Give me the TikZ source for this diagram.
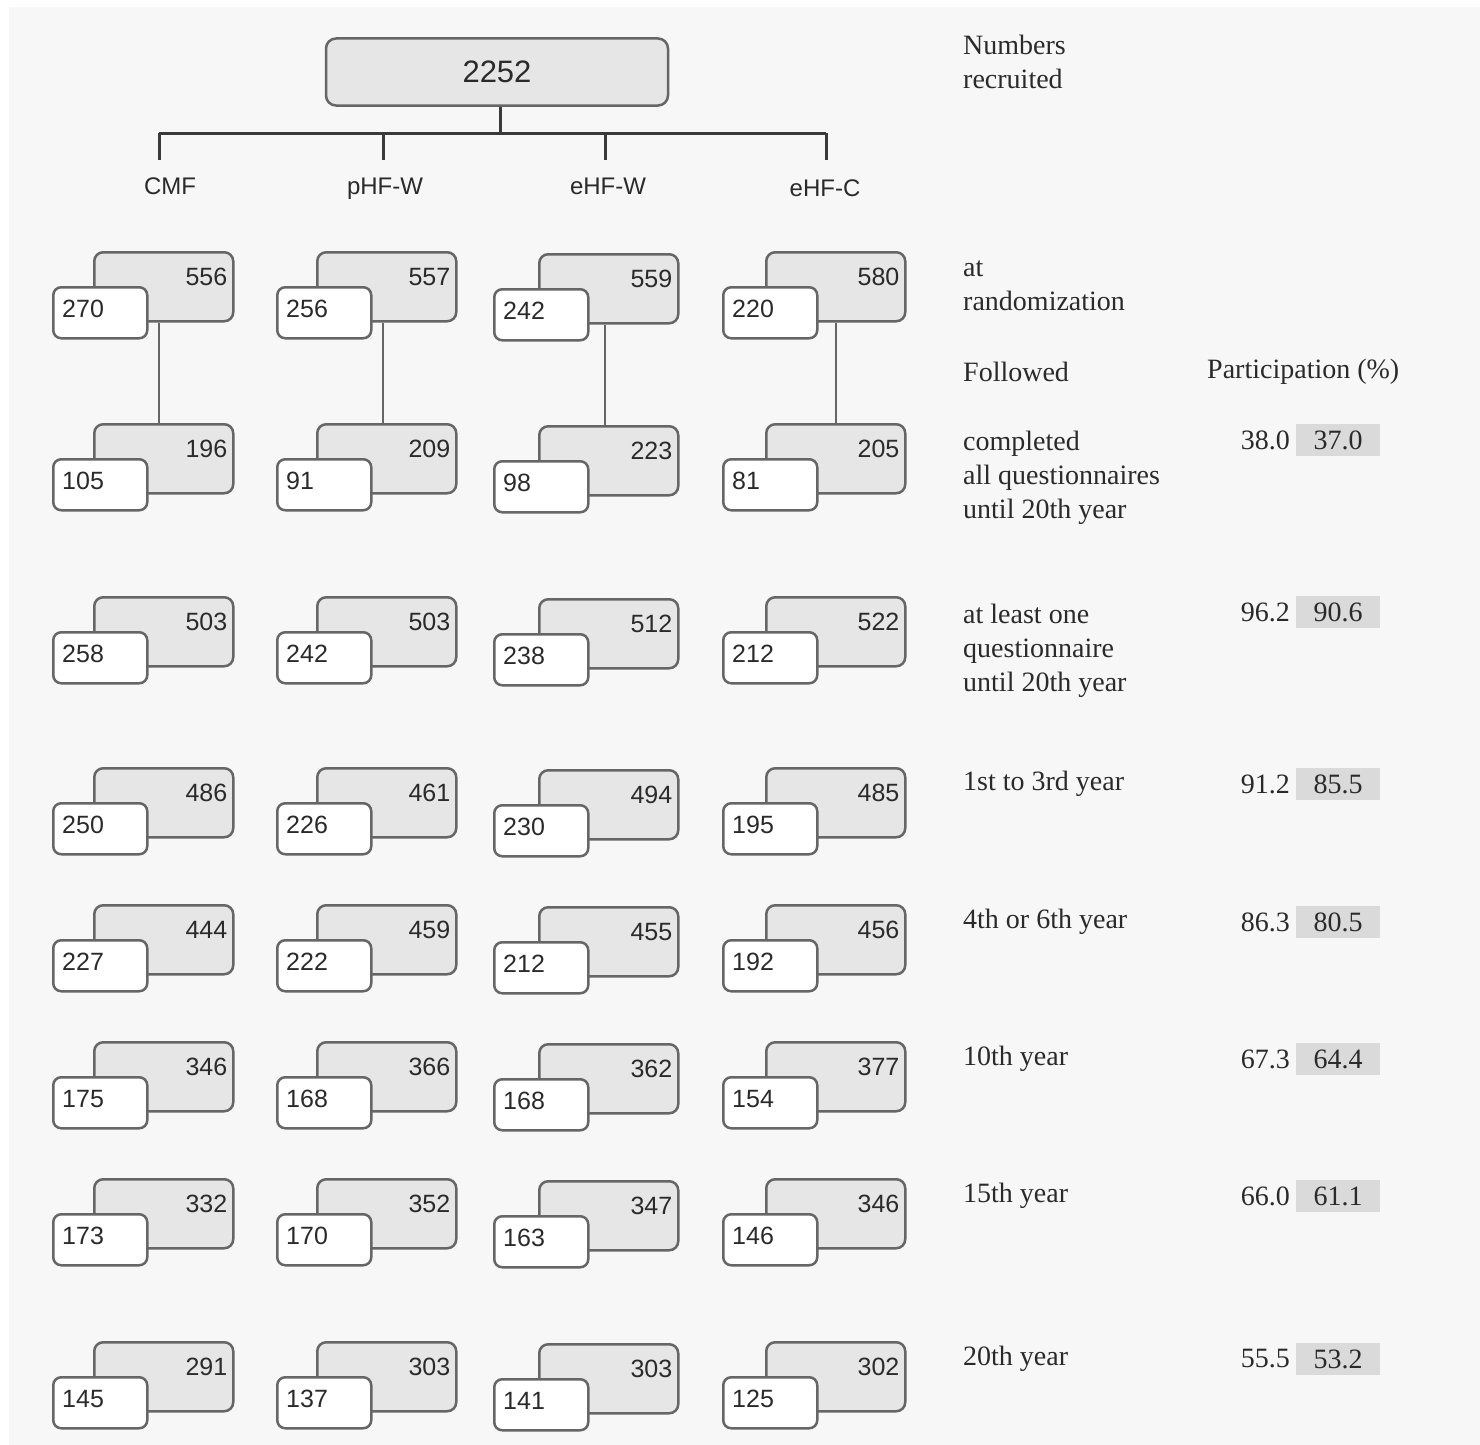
\documentclass[tikz,border=0pt]{standalone}
\usepackage{fontspec}
\setmainfont{Liberation Serif}
\newfontfamily\arialfont{Liberation Sans}
\usetikzlibrary{calc}
\definecolor{bg}{HTML}{F7F7F7}
\definecolor{boxfill}{HTML}{E6E6E6}
\definecolor{boxline}{HTML}{666666}
\definecolor{treeline}{HTML}{3A3A3A}
\definecolor{valfill}{HTML}{DADADA}
\definecolor{txt}{HTML}{2A2A2A}
\newcommand\pairbox[6]{%
  \node[graybox] (g#1) at (#2,#4) {};
  \node[numtxt, anchor=east] (gn#1) at ($(g#1.north east)+(-7,26)$) {#5};
  \node[whitebox] (w#1) at (#3,{#4+35}) {};
  \node[numtxt, anchor=west] (wn#1) at ($(w#1.west)+(10,-4)$) {#6};
}
\begin{document}
\begin{tikzpicture}[x=1pt,y=-1pt,
  graybox/.style={draw=boxline, line width=2.5pt, fill=boxfill, rounded corners=9pt, minimum width=139pt, minimum height=69pt, inner sep=0pt, anchor=north west},
  whitebox/.style={draw=boxline, line width=2.5pt, fill=white, rounded corners=8pt, minimum width=94pt, minimum height=51pt, inner sep=0pt, anchor=north west},
  numtxt/.style={font=\arialfont\fontsize{25}{30}\selectfont, text=txt, inner sep=0pt},
  cattxt/.style={font=\arialfont\fontsize{24}{28}\selectfont, text=txt, inner sep=0pt, anchor=base},
  rlab/.style={font=\fontsize{28}{34}\selectfont, text=txt, inner sep=0pt, align=left, anchor=west},
  pval/.style={font=\fontsize{28}{34}\selectfont, text=txt, inner sep=0pt, anchor=east},
  pbox/.style={font=\fontsize{28}{34}\selectfont, text=txt, inner sep=0pt, fill=valfill, minimum width=84pt, minimum height=32pt},
  tree/.style={draw=treeline, line width=3pt},
  conn/.style={draw=boxline, line width=2.5pt}
]
\useasboundingbox (0,0) rectangle (1480,1445);
\fill[white] (0,0) rectangle (1480,1445);
\fill[bg] (9,7) rectangle (1480,1445);

% top of tree
\node[draw=boxline, line width=2.5pt, fill=boxfill, rounded corners=10pt, minimum width=342pt, minimum height=67pt, inner sep=0pt,
      font=\arialfont\fontsize{31}{36}\selectfont, text=txt] (top) at (497,72) {2252};
\coordinate (hub) at (500,133);
\coordinate (d1) at (159,133);
\coordinate (d2) at (383,133);
\coordinate (d3) at (605,133);
\coordinate (d4) at (826,133);
\coordinate (e1) at (159,160);
\coordinate (e2) at (383,160);
\coordinate (e3) at (605,160);
\coordinate (e4) at (826,160);
\draw[tree] (top.south -| hub) -- (hub);
\draw[tree] (d1) -- (d4);
\foreach \i in {1,...,4} { \draw[tree] (d\i) -- (e\i); }
\node[cattxt] (cat1) at (170,194) {CMF};
\node[cattxt] (cat2) at (385,194) {pHF-W};
\node[cattxt] (cat3) at (608,194) {eHF-W};
\node[cattxt] (cat4) at (825,196) {eHF-C};

% box pairs
\foreach \r/\gy/\gA/\wA/\gB/\wB/\gC/\wC/\gD/\wD in {
  1/251/556/270/557/256/559/242/580/220,
  2/423/196/105/209/91/223/98/205/81,
  3/596/503/258/503/242/512/238/522/212,
  4/767/486/250/461/226/494/230/485/195,
  5/904/444/227/459/222/455/212/456/192,
  6/1041/346/175/366/168/362/168/377/154,
  7/1178/332/173/352/170/347/163/346/146,
  8/1341/291/145/303/137/303/141/302/125} {
  \pairbox{\r-1}{93}{52}{\gy}{\gA}{\wA}
  \pairbox{\r-2}{316}{276}{\gy}{\gB}{\wB}
  \pairbox{\r-3}{538}{493}{\gy+2}{\gC}{\wC}
  \pairbox{\r-4}{765}{722}{\gy}{\gD}{\wD}
}

% connectors between randomization and completed
\coordinate (k1) at (159,0);
\coordinate (k2) at (383,0);
\coordinate (k3) at (605,0);
\coordinate (k4) at (836,0);
\foreach \c in {1,...,4} {
  \draw[conn] (g1-\c.south -| k\c) -- (g2-\c.north -| k\c);
}

% right-hand labels
\node[rlab] (l0) at (963,62) {Numbers\\recruited};
\node[rlab] (l1) at (963,286) {at\\randomization};
\node[rlab] (lf) at (963,372) {Followed};
\node[rlab] (lp) at (1207,372) {Participation (\%)};
\node[rlab] (l2) at (963,478) {completed\\all questionnaires\\until 20th year};
\node[rlab] (l3) at (963,651) {at least one\\questionnaire\\until 20th year};
\node[rlab] (l4) at (963,784) {1st to 3rd year};
\node[rlab] (l5) at (963,922) {4th or 6th year};
\node[rlab] (l6) at (963,1059) {10th year};
\node[rlab] (l7) at (963,1196) {15th year};
\node[rlab] (l8) at (963,1359) {20th year};

\foreach \n/\y/\a/\b in {2/440/38.0/37.0, 3/612/96.2/90.6, 4/784/91.2/85.5, 5/922/86.3/80.5, 6/1059/67.3/64.4, 7/1196/66.0/61.1, 8/1359/55.5/53.2} {
  \node[pval] (pa\n) at (1290,\y) {\a};
  \node[pbox] (pb\n) at (1338,\y) {\b};
}
\end{tikzpicture}
\end{document}
